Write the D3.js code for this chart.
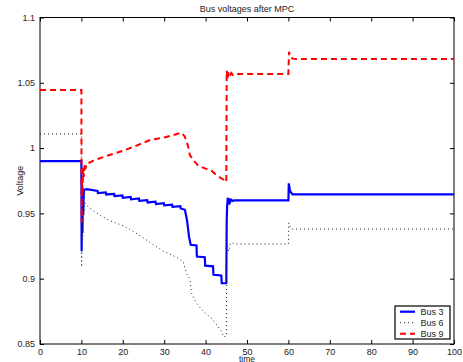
<!DOCTYPE html>
<html>
<head>
<meta charset="utf-8">
<script src="https://cdn.jsdelivr.net/npm/d3@7"></script>
<style>
  body { margin: 0; background: #fff; }
  text { font-family: "Liberation Sans", Arial, sans-serif; }
</style>
</head>
<body>
<div id="chart"></div>
<script>
// [time, voltage]
const bus3 = [
  [0, 0.990], [10, 0.990], [10.05, 0.921], [10.15, 0.962], [10.25, 0.935], [10.35, 0.965],
  [10.45, 0.950], [10.6, 0.968], [11.3, 0.9685], [13.9, 0.9672], [14.0, 0.9655], [15.9, 0.9661],
  [16.0, 0.9645], [17.9, 0.9650], [18.0, 0.9633], [19.9, 0.9638], [20.0, 0.9620], [21.9, 0.9626],
  [22.0, 0.9608], [23.9, 0.9614], [24.0, 0.9596], [25.9, 0.9602], [26.0, 0.9584], [27.9, 0.9590],
  [28.0, 0.9572], [29.9, 0.9578], [30.0, 0.9562], [31.9, 0.9567], [32.0, 0.9550], [33.9, 0.9556],
  [34.0, 0.9538], [35.0, 0.9528], [35.5, 0.945], [36.0, 0.932], [36.4, 0.926], [37.8, 0.9255],
  [37.9, 0.917], [39.8, 0.9165], [39.9, 0.910], [41.8, 0.9095], [41.9, 0.903], [43.8, 0.9025],
  [43.9, 0.8965], [45.0, 0.8965], [45.1, 0.945], [45.2, 0.955], [45.35, 0.962], [45.5, 0.957],
  [45.7, 0.9615], [45.9, 0.9585], [46.2, 0.9605], [46.6, 0.9595], [47, 0.960], [60, 0.960],
  [60.1, 0.973], [60.4, 0.967], [61, 0.9645], [100, 0.9645]
];

const bus6 = [
  [0, 1.0108], [10, 1.0108], [10.05, 0.909], [10.15, 0.945], [10.3, 0.930], [10.45, 0.955],
  [10.6, 0.948], [10.8, 0.958], [11.3, 0.956], [13.3, 0.951], [16.5, 0.945], [20.5, 0.940],
  [24.6, 0.932], [27.4, 0.926], [29.8, 0.921], [32.6, 0.917], [34.6, 0.913], [35.4, 0.904],
  [36.2, 0.8995], [36.6, 0.889], [37.8, 0.881], [39.9, 0.8735], [41.5, 0.8697], [42.7, 0.8646],
  [43.9, 0.8594], [44.3, 0.8556], [45.0, 0.856], [45.1, 0.918], [45.3, 0.925], [45.6, 0.921],
  [46.0, 0.927], [46.3, 0.9276], [47, 0.9266], [60, 0.9266], [60.1, 0.9427], [60.5, 0.939],
  [61, 0.938], [100, 0.938]
];

const bus9 = [
  [0, 1.0445], [10, 1.0445], [10.05, 0.943], [10.15, 0.975], [10.25, 0.965], [10.4, 0.985],
  [10.6, 0.978], [10.8, 0.988], [11.0, 0.984], [11.3, 0.9884], [12, 0.989], [13.3, 0.991],
  [16.1, 0.994], [18.1, 0.996], [20.1, 0.998], [23, 1.0015], [26.6, 1.0062], [30.2, 1.0083],
  [32.2, 1.010], [34.2, 1.0118], [35, 1.0087], [35.8, 1.001], [36.2, 0.9947], [37, 0.991],
  [38.2, 0.9865], [39.4, 0.985], [41.5, 0.9825], [42.7, 0.979], [44.3, 0.976], [45.0, 0.974],
  [45.1, 1.0593], [45.3, 1.053], [45.5, 1.058], [45.8, 1.055], [46.2, 1.0575], [46.6, 1.056],
  [47.2, 1.0567], [60, 1.0567], [60.15, 1.0738], [60.5, 1.070], [61, 1.0685], [62, 1.0682],
  [100, 1.0682]
];

const seriesNames = ['Bus 3', 'Bus 6', 'Bus 9'];
const xTicks = [0, 10, 20, 30, 40, 50, 60, 70, 80, 90, 100];
const yTicks = [0.85, 0.9, 0.95, 1, 1.05, 1.1];

const width = 463, height = 362;
const mLeft = 40, mRight = 454, mTop = 17.5, mBottom = 344;

const styles = [
  { color: '#0000ff', w: 2.2, dash: null },
  { color: '#222', w: 1, dash: '1,3' },
  { color: '#ff0000', w: 2, dash: '6,4' }
];

const svg = d3.select('#chart').append('svg')
  .attr('width', width)
  .attr('height', height);

const x = d3.scaleLinear().domain([0, 100]).range([mLeft, mRight]);
const y = d3.scaleLinear().domain([0.85, 1.1]).range([mBottom, mTop]);

svg.append('clipPath').attr('id', 'plot')
  .append('rect')
  .attr('x', mLeft).attr('y', mTop)
  .attr('width', mRight - mLeft).attr('height', mBottom - mTop);

// axes, ticks pointing inward on all four sides
svg.append('g')
  .attr('transform', 'translate(0,' + mBottom + ')')
  .call(d3.axisBottom(x).tickValues(xTicks).tickFormat(d3.format('d')).tickSizeInner(-4).tickSizeOuter(0).tickPadding(4.5));
svg.append('g')
  .attr('transform', 'translate(0,' + mTop + ')')
  .call(d3.axisTop(x).tickValues(xTicks).tickFormat('').tickSizeInner(-4).tickSizeOuter(0));
svg.append('g')
  .attr('transform', 'translate(' + mLeft + ',0)')
  .call(d3.axisLeft(y).tickValues(yTicks).tickFormat(d => String(d)).tickSizeInner(-4).tickSizeOuter(0).tickPadding(5));
svg.append('g')
  .attr('transform', 'translate(' + mRight + ',0)')
  .call(d3.axisRight(y).tickValues(yTicks).tickFormat('').tickSizeInner(-4).tickSizeOuter(0));

svg.selectAll('.domain').remove();
svg.selectAll('.tick line').attr('stroke', '#000');
svg.selectAll('.tick text').attr('fill', '#222').style('font-size', '9px');

svg.append('rect')
  .attr('x', mLeft).attr('y', mTop)
  .attr('width', mRight - mLeft).attr('height', mBottom - mTop)
  .attr('fill', 'none').attr('stroke', '#000').attr('stroke-width', 1);

const line = d3.line().x(d => x(d[0])).y(d => y(d[1]));

const plot = svg.append('g').attr('clip-path', 'url(#plot)');
[bus3, bus6, bus9].forEach((s, i) => {
  plot.append('path')
    .datum(s)
    .attr('d', line)
    .attr('fill', 'none')
    .attr('stroke', styles[i].color)
    .attr('stroke-width', styles[i].w)
    .attr('stroke-dasharray', styles[i].dash);
});

// titles
svg.append('text')
  .attr('x', (mLeft + mRight) / 2).attr('y', 11.5)
  .attr('text-anchor', 'middle')
  .style('font-size', '9px').attr('fill', '#222')
  .text('Bus voltages after MPC');
svg.append('text')
  .attr('transform', 'translate(23,' + (mTop + mBottom) / 2 + ') rotate(-90)')
  .attr('text-anchor', 'middle')
  .style('font-size', '9px').attr('fill', '#222')
  .text('Voltage');
svg.append('text')
  .attr('x', (mLeft + mRight) / 2).attr('y', 362)
  .attr('text-anchor', 'middle')
  .style('font-size', '8.5px').attr('fill', '#222')
  .text('time');

// legend
const legend = svg.append('g');
legend.append('rect')
  .attr('x', 395).attr('y', 306)
  .attr('width', 55).attr('height', 33)
  .attr('fill', '#fff').attr('stroke', '#000').attr('stroke-width', 1.2);
seriesNames.forEach((name, i) => {
  const ly = 311.7 + i * 11;
  legend.append('line')
    .attr('x1', 400).attr('x2', 415)
    .attr('y1', ly).attr('y2', ly)
    .attr('stroke', styles[i].color)
    .attr('stroke-width', styles[i].w)
    .attr('stroke-dasharray', styles[i].dash);
  legend.append('text')
    .attr('x', 420.5).attr('y', ly + 3.2)
    .style('font-size', '9px').attr('fill', '#222')
    .text(name);
});
</script>
</body>
</html>
